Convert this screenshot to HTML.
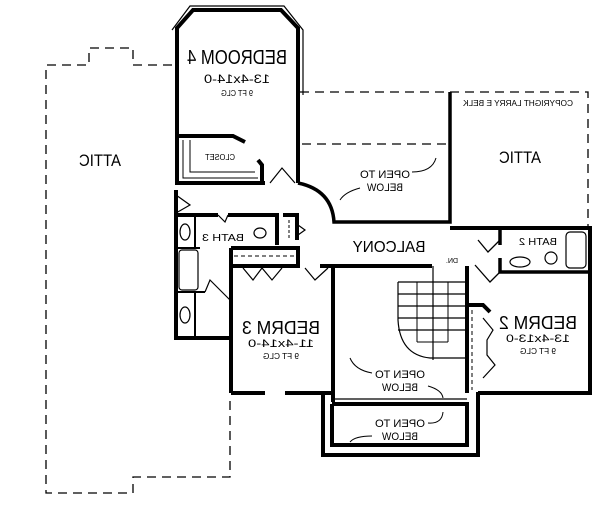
<!DOCTYPE html>
<html><head><meta charset="utf-8"><style>
html,body{margin:0;padding:0;background:#fff;}
svg{display:block;}
text{font-family:"Liberation Sans",sans-serif;fill:#000;}
</style></head><body>
<svg width="600" height="525" viewBox="0 0 600 525" xmlns="http://www.w3.org/2000/svg">
<g fill="none" stroke="#000">
<!-- attic left dashed -->
<path d="M172,65 H133 V48 H89 V65 H46 V493 H133 V477 H230 V400" stroke-width="1.3" stroke-dasharray="9,6"/>
<!-- right attic dashed -->
<path d="M300,92 H588 V228" stroke-width="1.3" stroke-dasharray="9,6"/>
<path d="M302,144 H450" stroke-width="1.3" stroke-dasharray="9,6"/>
<!-- bedroom 4 -->
<path d="M177,185 V28 L193,10 H281 L298,28 V183" stroke-width="4"/>
<path d="M172,30 L190,6 H284 L303,30 V95" stroke-width="1.2"/>
<path d="M177,136 H233 L245,142" stroke-width="4"/>
<path d="M177,183 H265 M258,160 L262,165 V183" stroke-width="4"/>
<path d="M183,140 V178 H258 M190,140 V172 H255" stroke-width="1"/>
<!-- door bedroom4 -->
<path d="M270,183 L282,168 L295,183" stroke-width="1.2"/>
<!-- curved balcony wall -->
<path d="M298,183 Q332,190 334,222 H450 V92" stroke-width="3.5"/>
<path d="M450,228 H590 V393 H478" stroke-width="4"/>
<!-- bath 2 -->
<path d="M500,228 V245 M500,258 V272 H590" stroke-width="3.5"/>
<rect x="566" y="232" width="20" height="36" rx="4" stroke-width="1.2"/>
<ellipse cx="520" cy="262" rx="10" ry="5" stroke-width="1.2"/>
<circle cx="551" cy="258" r="6" stroke-width="1.2"/>
<path d="M478,240 L488,252 L500,240" stroke-width="1.3"/>
<path d="M475,265 L490,282 L500,272" stroke-width="1.3"/>
<!-- stairs/open area -->
<path d="M333,266 V402 M333,266 H432 M467,266 V305 H483 L490,312 M467,305 V393" stroke-width="4"/>
<path d="M398,282 H467 M398,294 H467 M398,306 H467 M398,318 H467 M398,330 H467 M433,266 V360 M398,282 V320 Q400,355 430,358 H467" stroke-width="1.2"/>
<path d="M417,282 V342 M448,282 V342 M417,342 H448" stroke-width="1"/>
<path d="M472,310 V390" stroke-width="1" stroke-dasharray="4,3"/>
<path d="M483,318 L493,330 L487,340 V355 L495,365 L483,378" stroke-width="1.2"/>
<!-- bump out -->
<path d="M323,392 V455 H478 V392 M332,404 V445 H467 V404 H332" stroke-width="4"/>
<path d="M333,399 H467" stroke-width="1.2"/>
<!-- bedroom 3 -->
<path d="M231,393 V320 M231,248 H298 V266 M231,266 H300 M320,266 H333 M231,393 H265 M285,393 H333" stroke-width="4"/>
<path d="M231,300 V320" stroke-width="1.2" stroke-dasharray="3,3"/>
<path d="M234,256 H296" stroke-width="1" stroke-dasharray="4,3"/>
<path d="M243,268 L253,280 L262,268 L272,280 L282,268" stroke-width="1.2"/>
<path d="M305,268 L315,280 L328,268" stroke-width="1.2"/>
<!-- bath 3 -->
<path d="M176,190 V338 H231 V248 M176,215 H218 M228,215 H277 V245 M283,215 H297 V240" stroke-width="4"/>
<path d="M176,248 H200 M176,292 H205 M195,215 V248 M195,292 V338" stroke-width="2"/>
<rect x="179" y="250" width="19" height="40" rx="3" stroke-width="1.2"/>
<ellipse cx="185" cy="232" rx="5" ry="8" stroke-width="1.2"/>
<ellipse cx="185" cy="315" rx="5" ry="8" stroke-width="1.2"/>
<ellipse cx="260" cy="233" rx="6" ry="5" stroke-width="1.2"/>
<path d="M289,220 V238" stroke-width="1" stroke-dasharray="3,2"/>
<path d="M218,215 L225,222 L228,215" stroke-width="1.2"/>
<path d="M205,292 L210,280 L230,300" stroke-width="1.2"/>
<path d="M176,195 L190,205 L176,213" stroke-width="1.2"/>
<path d="M298,235 L305,230 L298,225" stroke-width="1.2"/>
<!-- open-to-below leaders -->
<path d="M412,172 Q432,172 436,158 M360,188 Q345,192 340,200" stroke-width="1"/>
<path d="M372,373 Q355,370 350,358 M428,386 Q442,390 443,398 M428,423 Q442,424 443,412 M372,436 Q355,436 350,442" stroke-width="1"/>
</g>
<g text-anchor="middle">
<text transform="translate(237,64) scale(-1,1)" font-size="20" textLength="100" lengthAdjust="spacingAndGlyphs">BEDROOM 4</text>
<text transform="translate(237,83) scale(-1,1)" font-size="12" textLength="66" lengthAdjust="spacingAndGlyphs">13-4x14-0</text>
<text transform="translate(237,96) scale(-1,1)" font-size="8" textLength="32" lengthAdjust="spacingAndGlyphs">9 FT CLG</text>
<text transform="translate(100,166) scale(-1,1)" font-size="17" textLength="42" lengthAdjust="spacingAndGlyphs">ATTIC</text>
<text transform="translate(220,160) scale(-1,1)" font-size="8" textLength="30" lengthAdjust="spacingAndGlyphs">CLOSET</text>
<text transform="translate(385,178) scale(-1,1)" font-size="11" textLength="50" lengthAdjust="spacingAndGlyphs">OPEN TO</text>
<text transform="translate(385,191) scale(-1,1)" font-size="11" textLength="36" lengthAdjust="spacingAndGlyphs">BELOW</text>
<text transform="translate(518,106) scale(-1,1)" font-size="8" textLength="110" lengthAdjust="spacingAndGlyphs">COPYRIGHT LARRY E BELK</text>
<text transform="translate(520,163) scale(-1,1)" font-size="17" textLength="42" lengthAdjust="spacingAndGlyphs">ATTIC</text>
<text transform="translate(223,241) scale(-1,1)" font-size="10" textLength="42" lengthAdjust="spacingAndGlyphs">BATH 3</text>
<text transform="translate(389,252) scale(-1,1)" font-size="16" textLength="73" lengthAdjust="spacingAndGlyphs">BALCONY</text>
<text transform="translate(538,245) scale(-1,1)" font-size="10" textLength="38" lengthAdjust="spacingAndGlyphs">BATH 2</text>
<text transform="translate(452,263) scale(-1,1)" font-size="7">DN.</text>
<text transform="translate(281,334) scale(-1,1)" font-size="18" textLength="78" lengthAdjust="spacingAndGlyphs">BEDRM 3</text>
<text transform="translate(281,347) scale(-1,1)" font-size="11" textLength="66" lengthAdjust="spacingAndGlyphs">11-4x14-0</text>
<text transform="translate(281,359) scale(-1,1)" font-size="8" textLength="36" lengthAdjust="spacingAndGlyphs">9 FT CLG</text>
<text transform="translate(538,329) scale(-1,1)" font-size="18" textLength="78" lengthAdjust="spacingAndGlyphs">BEDRM 2</text>
<text transform="translate(538,342) scale(-1,1)" font-size="11" textLength="64" lengthAdjust="spacingAndGlyphs">13-4x13-0</text>
<text transform="translate(538,354) scale(-1,1)" font-size="8" textLength="36" lengthAdjust="spacingAndGlyphs">9 FT CLG</text>
<text transform="translate(400,378) scale(-1,1)" font-size="11" textLength="50" lengthAdjust="spacingAndGlyphs">OPEN TO</text>
<text transform="translate(400,391) scale(-1,1)" font-size="11" textLength="36" lengthAdjust="spacingAndGlyphs">BELOW</text>
<text transform="translate(400,427) scale(-1,1)" font-size="11" textLength="50" lengthAdjust="spacingAndGlyphs">OPEN TO</text>
<text transform="translate(400,440) scale(-1,1)" font-size="11" textLength="36" lengthAdjust="spacingAndGlyphs">BELOW</text>
</g>
</svg>
</body></html>
